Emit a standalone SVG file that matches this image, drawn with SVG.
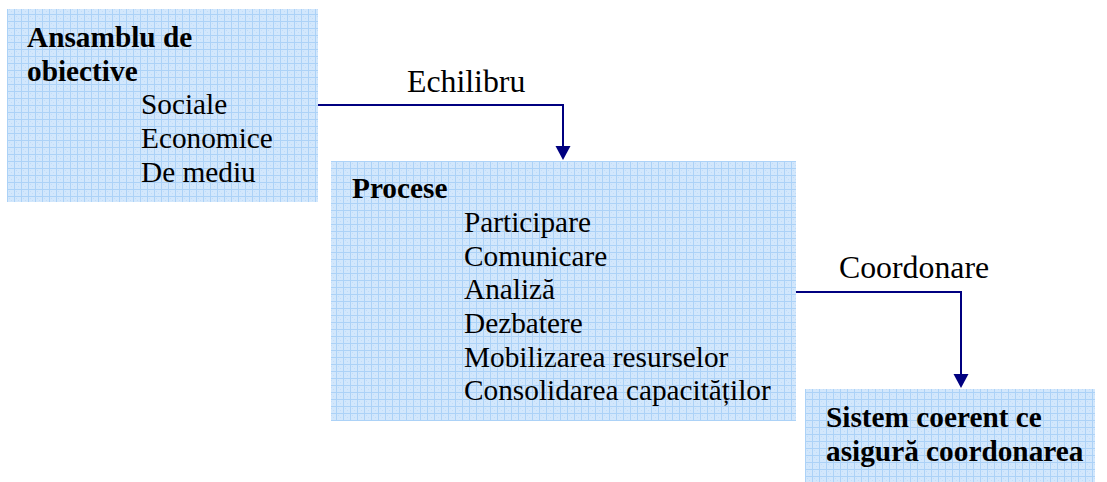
<svg xmlns="http://www.w3.org/2000/svg" width="1107" height="482" viewBox="0 0 1107 482">
<style>
.bx{fill:url(#grid)}
.t{font-family:"Liberation Serif","Times New Roman",serif;font-size:29.3px;fill:#000}
.b{font-weight:bold}
.lbl{font-family:"Liberation Serif","Times New Roman",serif;font-size:31.8px;fill:#000}
.c{fill:none;stroke:#000080;stroke-width:2}
.ah{fill:#000080}
</style>
<defs>
<pattern id="grid" x="0" y="0" width="7" height="7" patternUnits="userSpaceOnUse">
<rect width="7" height="7" fill="#d2e7fc"/>
<rect x="2" y="2" width="1" height="1" fill="#c2dcf8"/>
<rect x="4" y="4" width="1" height="1" fill="#c2dcf8"/>
<rect x="0" y="0" width="7" height="1" fill="#acd2f7"/>
<rect x="0" y="0" width="1" height="7" fill="#acd2f7"/>
</pattern>
</defs>
<rect width="1107" height="482" fill="#fff"/>
<g id="n1">
<rect class="bx" x="7" y="9" width="311" height="193"/>
<text class="t b" x="27" y="47">Ansamblu de</text>
<text class="t b" x="27" y="81">obiective</text>
<text class="t" x="141" y="114">Sociale</text>
<text class="t" x="141" y="148">Economice</text>
<text class="t" x="141" y="182">De mediu</text>
</g>
<g id="n2">
<rect class="bx" x="331" y="161" width="465" height="260"/>
<text class="t b" x="352" y="198">Procese</text>
<text class="t" x="464" y="232">Participare</text>
<text class="t" x="464" y="266">Comunicare</text>
<text class="t" x="464" y="299">Analiză</text>
<text class="t" x="464" y="333">Dezbatere</text>
<text class="t" x="464" y="367">Mobilizarea resurselor</text>
<text class="t" x="464" y="400">Consolidarea capacităților</text>
</g>
<g id="n3">
<rect class="bx" x="805" y="389" width="290" height="93"/>
<text class="t b" x="826" y="427">Sistem coerent ce</text>
<text class="t b" x="826" y="461">asigură coordonarea</text>
</g>
<g id="connectors">
<polyline class="c" points="318,105 563,105 563,147"/>
<polygon class="ah" points="555.5,146 570.5,146 563,160"/>
<text class="lbl" x="407" y="92">Echilibru</text>
<polyline class="c" points="796,292 961,292 961,375"/>
<polygon class="ah" points="953.5,374 968.5,374 961,388"/>
<text class="lbl" x="839" y="278">Coordonare</text>
</g>
</svg>
